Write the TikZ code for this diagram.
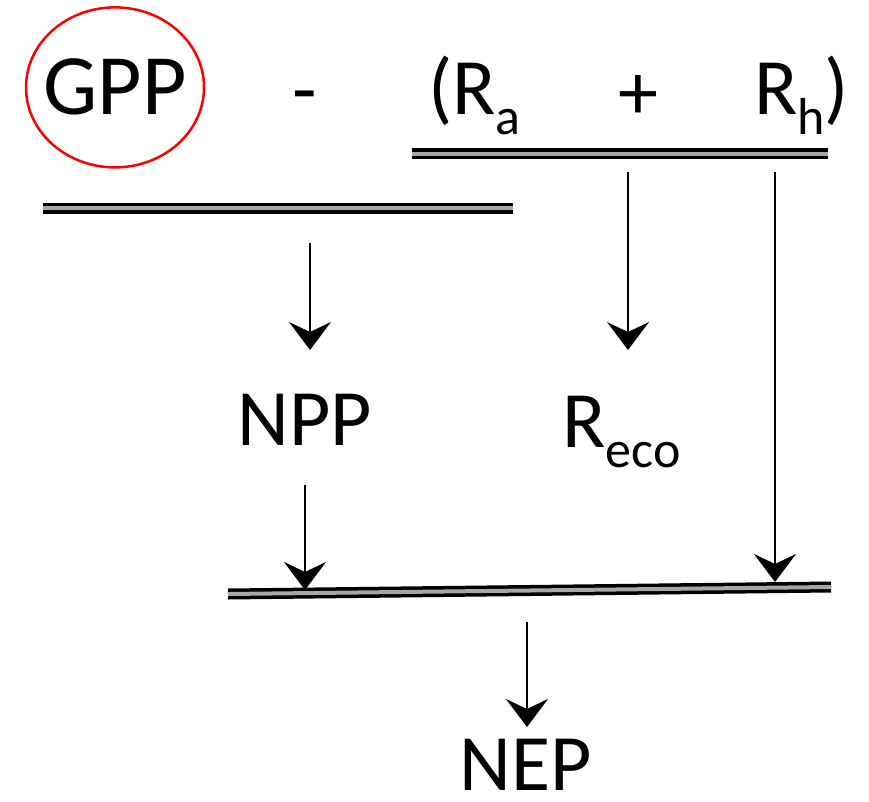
\documentclass[tikz,border=0pt]{standalone}
\usepackage{fontspec}
\setmainfont{Carlito}
\usepackage{tikz}
\usetikzlibrary{arrows.meta}
\tikzstyle{term} = [inner sep=0pt, anchor=base, font=\fontsize{80}{90}\selectfont]
\tikzstyle{bar} = [double=black!35, double distance=4pt, line width=3.5pt]
\tikzstyle{flow} = [->, line width=2.5pt]
\newcommand{\lowidx}[1]{\raisebox{-20pt}{\fontsize{52}{60}\selectfont #1}}

\begin{document}
\begin{tikzpicture}[x=1pt, y=-1pt, >={Stealth[length=28pt, width=42pt, inset=10pt]}]
        \useasboundingbox (0,0) rectangle (869,802);

        % terms of the balance
        \node [term, font=\fontsize{86}{96}\selectfont] (gpp) at (115,115) {GPP};
        \node [term] (minus) at (305,117) {-};
        \node [term, anchor=base west] (ra) at (428,115) {(R\lowidx{a}};
        \node [term] (plus) at (638,120) {+};
        \node [term, anchor=base west] (rh) at (754,115) {R\lowidx{h})};
        \node [term] (npp) at (305,445) {NPP};
        \node [term, anchor=base west] (reco) at (562,447) {R\lowidx{eco}};
        \node [term] (nep) at (526,790) {NEP};

        % red ring round GPP
        \draw [red, line width=2.5pt] (gpp.center) ellipse [x radius=89, y radius=80];

        % bar ends
        \coordinate (resp l) at (412,154);
        \coordinate (resp r) at (828,154);
        \coordinate (gross l) at (43,208.5);
        \coordinate (gross r) at (513,208.5);
        \coordinate (net l) at (228,594);
        \coordinate (net r) at (831,587);

        % arrow ends
        \coordinate (npp in) at (310,243);
        \coordinate (npp tip) at (310,350);
        \coordinate (reco in) at (628,172);
        \coordinate (reco tip) at (628,350);
        \coordinate (rh in) at (775,172);
        \coordinate (rh tip) at (775,582);
        \coordinate (npp out) at (305,485);
        \coordinate (npp down) at (305,590);
        \coordinate (nep in) at (527,622);
        \coordinate (nep tip) at (527,727);

        \draw [bar] (resp l) -- (resp r);
        \draw [bar] (gross l) -- (gross r);
        \draw [bar] (net l) -- (net r);

        \draw [flow] (npp in) -- (npp tip);
        \draw [flow] (reco in) -- (reco tip);
        \draw [flow] (rh in) -- (rh tip);
        \draw [flow] (npp out) -- (npp down);
        \draw [flow] (nep in) -- (nep tip);
\end{tikzpicture}
\end{document}
